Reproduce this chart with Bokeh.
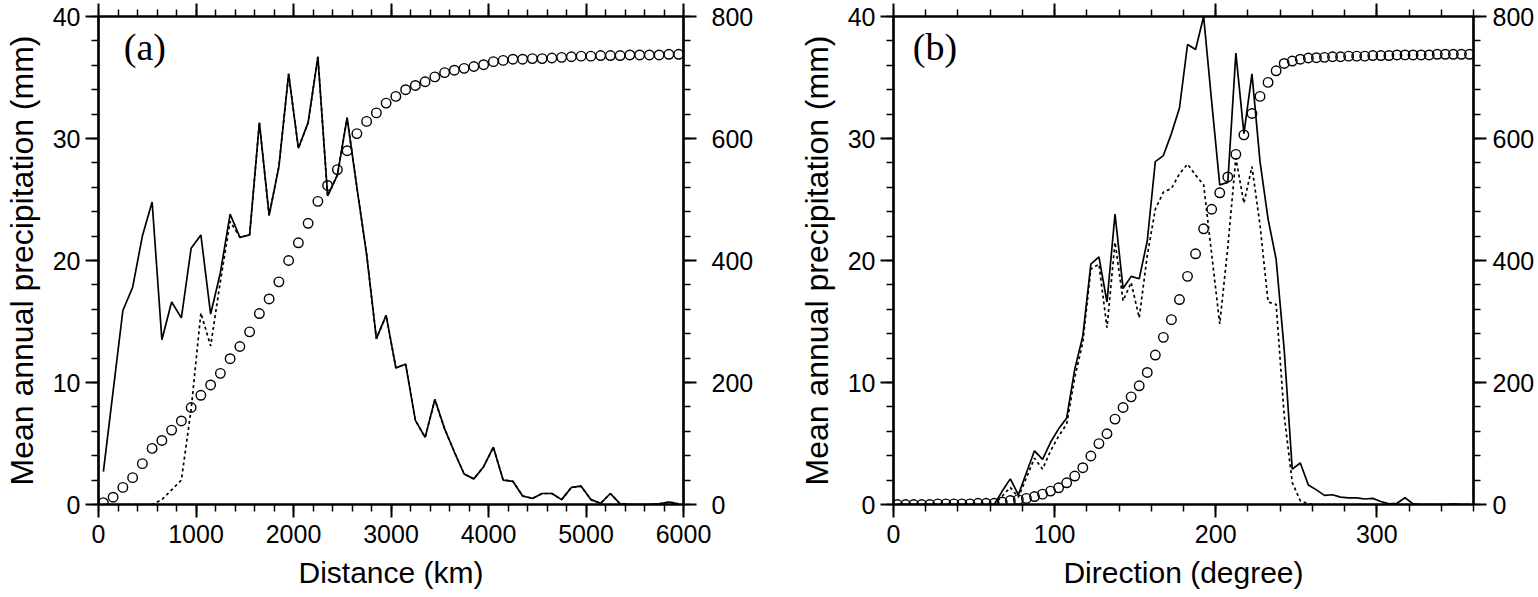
from bokeh.plotting import figure
from bokeh.layouts import row
from bokeh.models import Range1d, LinearAxis, FixedTicker, Label, CustomLabelingPolicy
from bokeh.embed import file_html
from bokeh.resources import INLINE

# (a) distance bins, 100 km wide
dist_km = list(range(50, 6000, 100))
solid_a = [2.7, 9.3, 15.9, 17.8, 22.0, 24.8, 13.5, 16.6, 15.3, 21.0,
           22.1, 15.6, 19.0, 23.8, 21.9, 22.1, 31.3, 23.7, 27.7, 35.3,
           29.2, 31.3, 36.7, 25.3, 27.0, 31.7, 26.0, 20.5, 13.6, 15.5,
           11.2, 11.5, 6.9, 5.5, 8.6, 6.2, 4.3, 2.5, 2.1, 3.1,
           4.7, 2.0, 1.9, 0.7, 0.5, 0.9, 0.9, 0.4, 1.4, 1.5,
           0.4, 0.1, 0.9, 0.05, 0.0, 0.0, 0.0, 0.05, 0.2, 0.05]
# dashed curve differs only below 1500 km, then lies on the solid one
dashed_a_head = [0, 0, 0, 0, 0, 0, 0.4, 1.2, 2.0, 7.8,
                 15.7, 13.0, 18.3, 23.2, 21.9]
dashed_a = dashed_a_head + solid_a[len(dashed_a_head):]
cum_a = [3, 12, 28, 44, 67, 92, 105, 122, 137, 159,
         179, 196, 215, 239, 259, 283, 313, 337, 365, 400,
         429, 461, 497, 523, 549, 580, 608, 628, 642, 658,
         669, 680, 687, 693, 701, 708, 712, 715, 718, 721,
         726, 728, 730, 730, 731, 731, 732, 733, 734, 735,
         735, 736, 736, 736, 737, 737, 737, 737, 738, 738]

# (b) direction bins, 5 degree wide
dir_deg = [2.5 + 5 * i for i in range(72)]
solid_b = [0, 0, 0, 0, 0, 0, 0, 0, 0, 0,
           0, 0, 0, 1.1, 2.1, 0.8, 2.6, 4.4, 3.7, 5.1,
           6.2, 7.1, 11.1, 13.8, 19.7, 20.3, 16.6, 23.8, 17.7, 18.7,
           18.5, 21.6, 28.1, 28.6, 30.4, 32.5, 37.7, 37.3, 40.0, 33.0,
           26.2, 26.4, 37.0, 30.4, 35.3, 28.1, 23.4, 20.1, 12.7, 2.9,
           3.4, 1.6, 1.2, 0.75, 0.8, 0.6, 0.55, 0.55, 0.45, 0.5,
           0.25, 0.05, 0.1, 0.55, 0.05, 0, 0, 0, 0, 0.05,
           0, 0]
dashed_b = [0, 0, 0, 0, 0, 0, 0, 0, 0, 0,
            0, 0, 0, 0.7, 1.4, 0.6, 2.2, 3.8, 2.9, 4.4,
            5.6, 6.6, 10.4, 13.3, 19.3, 19.7, 14.5, 21.5, 16.7, 18.2,
            15.3, 20.4, 24.2, 25.6, 25.9, 27.1, 27.9, 27.0, 26.2, 20.5,
            14.8, 21.1, 28.4, 24.7, 27.7, 22.9, 16.6, 16.4, 7.3, 1.8,
            0.3, 0.05, 0, 0, 0, 0, 0, 0, 0, 0,
            0, 0, 0, 0, 0, 0, 0, 0, 0, 0,
            0, 0]
cum_b = [0, 0, 0, 0, 0, 1, 1, 1, 1, 1,
         2, 2, 2, 4, 6.5, 8, 10, 13, 17, 22,
         27.4, 35.6, 46.6, 60.3, 79.5, 99.8, 116, 140, 159, 176.5,
         194.6, 216.5, 245, 274, 303, 336, 374, 411, 452, 484,
         511, 537, 574, 606, 641, 669, 692, 711, 723, 727,
         730, 732, 732.5, 733, 734, 734, 735, 735, 735, 736,
         736, 736, 737, 737, 737, 737, 737, 738, 738, 738,
         738, 738]

y_ticks = [0, 10, 20, 30, 40]
y_minor = list(range(0, 41, 2))
cum_ticks = [0, 200, 400, 600, 800]
cum_minor = list(range(0, 801, 40))
x_ticks_a = [0, 1000, 2000, 3000, 4000, 5000, 6000]
x_minor_a = list(range(0, 6001, 200))
x_ticks_b = [0, 100, 200, 300]
x_minor_b = list(range(0, 361, 20))

Y_TITLE = "Mean annual precipitation (mm)"
SANS = "Liberation Sans"


def style_axis(ax):
    ax.axis_line_width = 2.2
    ax.axis_line_color = "black"
    ax.major_tick_line_width = 2
    ax.minor_tick_line_width = 1.5
    ax.major_tick_out = 13
    ax.major_tick_in = 0
    ax.minor_tick_out = 7
    ax.minor_tick_in = 0
    ax.major_label_text_font = SANS
    ax.major_label_text_font_size = "25px"
    ax.major_label_text_color = "black"
    ax.axis_label_text_font = SANS
    ax.axis_label_text_font_size = "30px"
    ax.axis_label_text_font_style = "normal"
    ax.axis_label_text_color = "black"


def panel(x, solid, dashed, cum, xmax, xticks, xminor, xlabel, tag, tag_x,
          w, right_border, right_standoff):
    p = figure(width=w, height=596, x_range=Range1d(0, xmax), y_range=Range1d(0, 40),
               output_backend="svg", toolbar_location=None,
               x_axis_label=xlabel, y_axis_label=Y_TITLE,
               min_border_left=97, min_border_right=right_border,
               min_border_top=16, min_border_bottom=92)
    p.grid.visible = False
    p.outline_line_color = "black"
    p.outline_line_width = 2.2
    p.background_fill_color = "white"

    p.extra_y_ranges = {"cum": Range1d(0, 800)}
    p.add_layout(LinearAxis(y_range_name="cum"), "right")
    p.add_layout(LinearAxis(), "above")

    p.below[0].ticker = FixedTicker(ticks=xticks, minor_ticks=xminor)
    p.above[0].ticker = FixedTicker(ticks=xticks, minor_ticks=xminor)
    p.left[0].ticker = FixedTicker(ticks=y_ticks, minor_ticks=y_minor)
    p.right[0].ticker = FixedTicker(ticks=cum_ticks, minor_ticks=cum_minor)
    for ax in [p.below[0], p.above[0], p.left[0], p.right[0]]:
        style_axis(ax)
    # top axis: ticks only
    p.above[0].major_label_policy = CustomLabelingPolicy(code="return []")
    p.above[0].major_label_text_font_size = "0px"
    p.above[0].major_label_standoff = 0
    p.below[0].major_label_standoff = 7
    p.below[0].axis_label_standoff = 10
    p.left[0].major_label_standoff = 5
    p.left[0].axis_label_standoff = 10
    p.left[0].axis_label_text_font_size = "32px"
    p.right[0].major_label_standoff = right_standoff

    p.line(x, solid, line_color="black", line_width=1.7)
    p.line(x, dashed, line_color="black", line_width=1.7, line_dash="3 3")
    p.scatter(x, cum, y_range_name="cum", marker="circle", size=9.5,
              fill_color=None, line_color="black", line_width=1.4)

    p.add_layout(Label(x=tag_x, y=37.5, text=tag, text_font="Liberation Serif",
                       text_font_size="38px", text_baseline="middle", text_color="black"))
    return p


pa = panel(dist_km, solid_a, dashed_a, cum_a, 6000, x_ticks_a, x_minor_a,
           "Distance (km)", "(a)", 260, 795, 112, 15)
pb = panel(dir_deg, solid_b, dashed_b, cum_b, 360, x_ticks_b, x_minor_b,
           "Direction (degree)", "(b)", 12, 742, 62, 6)

layout = row(pa, pb)
open("out.html", "w").write(file_html(layout, INLINE))
